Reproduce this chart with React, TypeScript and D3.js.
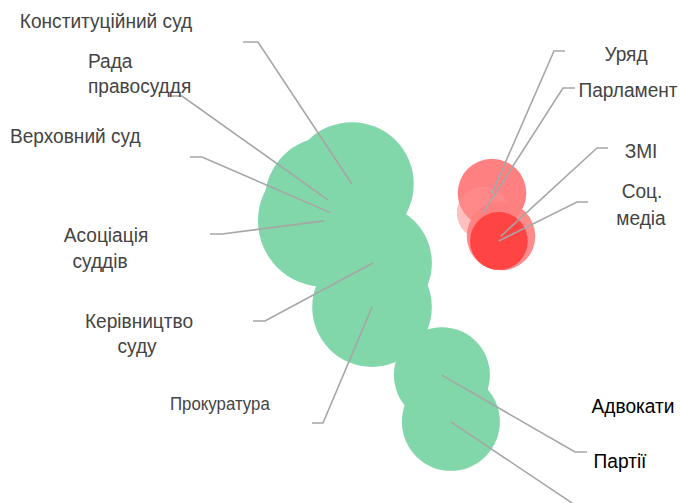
import * as d3 from "d3";

const names = [
  "Конституційний суд",
  "Рада правосуддя",
  "Верховний суд",
  "Асоціація суддів",
  "Керівництво суду",
  "Прокуратура",
  "Адвокати",
  "Партії",
  "Уряд",
  "Парламент",
  "ЗМІ",
  "Соц. медіа",
];
const xValues = [3.73, 2.93, 3.03, 2.8, 4.43, 4.4, 6.73, 7.03, 8.4, 8.1, 8.7, 8.63];
const yValues = [2.21, 2.63, 2.97, 3.18, 4.29, 5.45, 7.24, 8.47, 2.45, 2.97, 3.58, 3.71];
const sizes = [78, 81, 73, 89, 71, 73, 47, 49, 24, 14, 24, 17];
const groups = ["court", "court", "court", "court", "court", "court", "court", "court", "gov", "gov", "gov", "gov"];

const FONT = "Liberation Sans, Arial, sans-serif";
// the original labels use a slightly condensed face
const SQUEEZE = 0.91;

function App() {
  const width = 680;
  const height = 503;
  const x = d3.scaleLinear().domain([0, 10]).range([240, 540]);
  const y = d3.scaleLinear().domain([0, 10]).range([100, 480]);
  const r = d3.scaleSqrt().domain([0, 100]).range([0, 70]);

  const nodes = names.map((name, i) => ({
    name,
    cx: x(xValues[i]),
    cy: y(yValues[i]),
    r: r(sizes[i]),
    group: groups[i],
  }));

  const fills = ["#81d7a9", "#81d7a9", "#81d7a9", "#81d7a9", "#81d7a9", "#81d7a9", "#81d7a9", "#81d7a9", "#ff8080", "rgb(255,142,142)", "#ff8080", "#ff4444"];
  const opac = [1, 1, 1, 1, 1, 1, 1, 1, 1, 0.56, 0.9, 1];

  // label layout: lines [text, x, baseline], anchor, leader elbow [x1, x2, y]
  const labels = [
    { lines: [["Конституційний суд", 106, 28]], anchor: "middle", elbow: [243, 258, 42] },
    { lines: [["Рада", 88, 68], ["правосуддя", 88, 93]], anchor: "start", elbow: [170, 182, 96] },
    { lines: [["Верховний суд", 10, 143]], anchor: "start", elbow: [190, 202, 157] },
    { lines: [["Асоціація", 106, 242], ["суддів", 100, 268]], anchor: "middle", elbow: [210, 222, 234] },
    { lines: [["Керівництво", 139, 328], ["суду", 137, 353]], anchor: "middle", elbow: [253, 265, 321] },
    { lines: [["Прокуратура", 170, 410]], anchor: "start", elbow: [312, 323, 423], small: true },
    { lines: [["Адвокати", 633, 413]], anchor: "middle", elbow: [587, 575, 452], dark: true },
    { lines: [["Партії", 620, 468]], anchor: "middle", elbow: [590, 578, 507], dark: true },
    { lines: [["Уряд", 626, 61]], anchor: "middle", elbow: [565, 554, 51] },
    { lines: [["Парламент", 628, 97]], anchor: "middle", elbow: [575, 563, 88] },
    { lines: [["ЗМІ", 641, 158]], anchor: "middle", elbow: [608, 597, 148] },
    { lines: [["Соц.", 642, 198], ["медіа", 641, 225]], anchor: "middle", elbow: [588, 577, 202] },
  ];

  return (
    <svg width={width} height={height} style={{ display: "block", position: "absolute", left: 0, top: 0 }}>
      <rect width={width} height={height} fill="#fff" />
      {nodes.map((d, i) => (
        <circle key={d.name} cx={d.cx} cy={d.cy} r={d.r} fill={fills[i]} fillOpacity={opac[i]} />
      ))}
      {labels.map((l, i) => {
        const [x1, x2, ly] = l.elbow;
        const path = d3.line()([
          [x1, ly],
          [x2, ly],
          [nodes[i].cx, nodes[i].cy],
        ]);
        return <path key={"l" + i} d={path ?? ""} fill="none" stroke="#a6a6a6" strokeWidth={1.6} />;
      })}
      {labels.map((l, i) =>
        l.lines.map(([s, lx, ly], j) => (
          <text
            key={"t" + i + "-" + j}
            transform={`translate(${lx},${ly}) scale(${SQUEEZE},1)`}
            textAnchor={l.anchor}
            fontFamily={FONT}
            fontSize={l.small ? 18.5 : 21}
            fill={l.dark ? "#000" : "#444"}
          >
            {s}
          </text>
        ))
      )}
    </svg>
  );
}

export default App;
